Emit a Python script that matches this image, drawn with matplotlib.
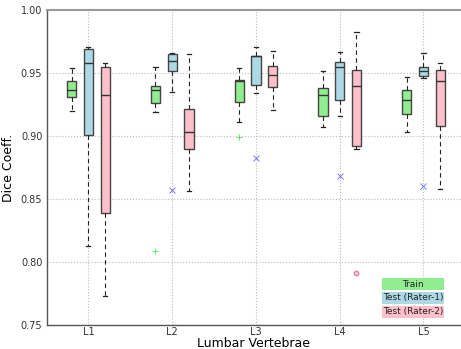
import matplotlib
matplotlib.use("Agg")
import matplotlib.pyplot as plt
from matplotlib.patches import Rectangle
import numpy as np

levels = ["L1", "L2", "L3", "L4", "L5"]
groups = ["Train", "Test (Rater-1)", "Test (Rater-2)"]
colours = ["lightgreen", "lightblue", "pink"]
markers = ["+", "x", "o"]

# per group: [whislo, q1, med, q3, whishi] for L1..L5
train = [
    [0.920, 0.931, 0.937, 0.944, 0.954],
    [0.919, 0.926, 0.937, 0.940, 0.955],
    [0.911, 0.927, 0.944, 0.945, 0.954],
    [0.907, 0.916, 0.933, 0.938, 0.952],
    [0.903, 0.918, 0.929, 0.937, 0.947],
]
rater1 = [
    [0.813, 0.901, 0.958, 0.969, 0.971],
    [0.935, 0.952, 0.960, 0.965, 0.966],
    [0.934, 0.941, 0.964, 0.964, 0.971],
    [0.916, 0.929, 0.955, 0.959, 0.967],
    [0.946, 0.948, 0.952, 0.955, 0.966],
]
rater2 = [
    [0.773, 0.839, 0.933, 0.955, 0.958],
    [0.856, 0.890, 0.903, 0.922, 0.965],
    [0.921, 0.939, 0.949, 0.956, 0.968],
    [0.890, 0.892, 0.940, 0.953, 0.983],
    [0.858, 0.908, 0.944, 0.953, 0.958],
]
outliers_train = [[], [0.809], [0.899], [], []]
outliers_rater1 = [[], [0.857], [0.883], [0.868], [0.860]]
outliers_rater2 = [[], [], [], [0.791], []]

all_stats = [train, rater1, rater2]
all_fliers = [outliers_train, outliers_rater1, outliers_rater2]
offsets = [-0.2, 0.0, 0.2]

fig = plt.figure(figsize=(4.61, 3.49), dpi=100)
ax = fig.add_axes([0.1009, 0.0696, 0.9085, 0.9004])

for g in range(3):
    stats = []
    for i in range(len(levels)):
        lo, q1, med, q3, hi = all_stats[g][i]
        stats.append(dict(whislo=lo, q1=q1, med=med, q3=q3, whishi=hi,
                          fliers=all_fliers[g][i]))
    pos = np.arange(1, len(levels) + 1) + offsets[g]
    mk = markers[g]
    flier_props = dict(marker=mk, markersize=4 if mk != "o" else 3.5,
                       markeredgecolor=["#55dd55", "#6666ff", "#cc6677"][g],
                       markerfacecolor=colours[g] if mk == "o" else "none",
                       markeredgewidth=0.6, linestyle="none")
    ax.bxp(stats, positions=pos, widths=0.11, capwidths=0.05,
           patch_artist=True, showfliers=True,
           boxprops=dict(facecolor=colours[g], edgecolor="#444444", linewidth=1.0),
           medianprops=dict(color="#333333", linewidth=1.0),
           whiskerprops=dict(color="#222222", linestyle=(0, (4, 3)), linewidth=0.8),
           capprops=dict(color="#222222", linewidth=0.9),
           flierprops=flier_props)

ax.set_xlim(0.5, 5.5)
ax.set_ylim(0.75, 1.00)
ax.set_xticks(np.arange(1, len(levels) + 1))
ax.set_xticklabels(levels)
ax.set_yticks([0.75, 0.80, 0.85, 0.90, 0.95, 1.00])
ax.yaxis.set_major_formatter(matplotlib.ticker.FormatStrFormatter("%.2f"))
ax.tick_params(length=0, labelsize=7, colors="#333333")
ax.tick_params(axis="x", pad=2)
ax.tick_params(axis="y", pad=3)
ax.grid(True, linestyle=":", color="#bbbbbb", linewidth=0.8)
ax.set_axisbelow(True)
ax.set_xlabel("Lumbar Vertebrae", fontsize=9)
ax.xaxis.label.set_va("center")
ax.xaxis.set_label_coords(0.4935, -0.060)
ax.set_ylabel("Dice Coeff.", fontsize=9, labelpad=4)

for s in ["left", "bottom"]:
    ax.spines[s].set_color("#555555")
    ax.spines[s].set_linewidth(1.0)
ax.spines["top"].set_color("#999999")
ax.spines["top"].set_linewidth(1.5)
ax.spines["right"].set_visible(False)

# legend as coloured labels
for g, name in enumerate(groups):
    yc = 0.1295 - g * 0.0445
    ax.add_patch(Rectangle((0.801, yc - 0.019), 0.149, 0.038,
                           transform=ax.transAxes, facecolor=colours[g],
                           edgecolor="none", zorder=5))
    ax.text(0.8755, yc, name, transform=ax.transAxes, ha="center",
            va="center", fontsize=6.5, color="#222222", zorder=6)

fig.savefig("out.png", dpi=100)
